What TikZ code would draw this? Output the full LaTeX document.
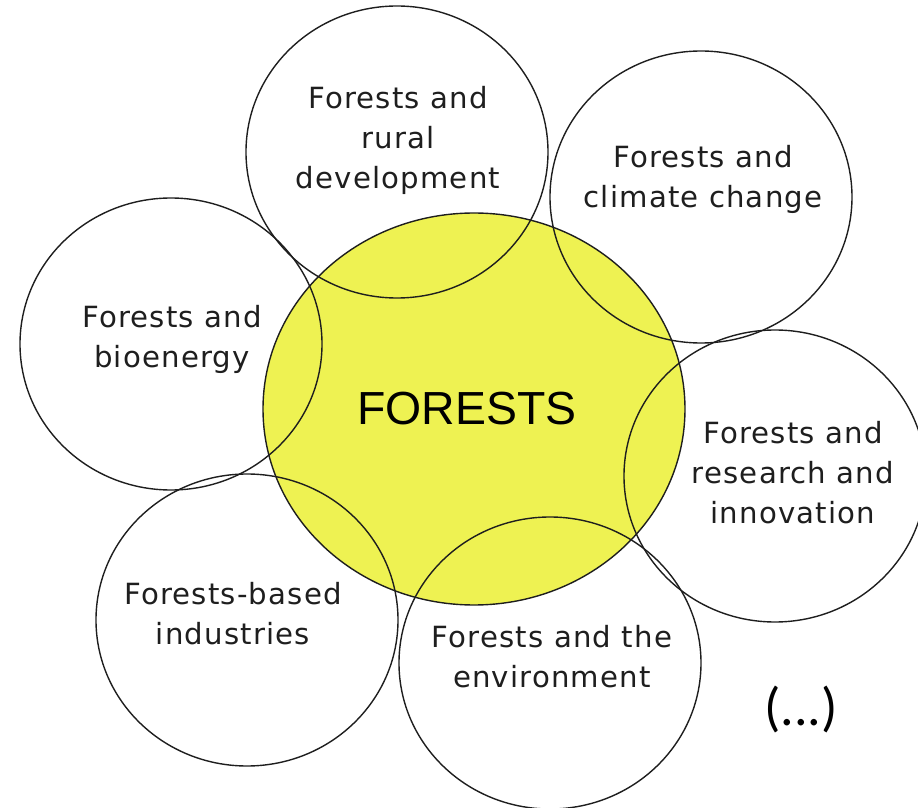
\documentclass[tikz,border=0pt]{standalone}
\usepackage{fontspec}
\setmainfont{DejaVu Sans}[LetterSpace=4]
\newfontfamily\corefont{Liberation Sans}
\newfontfamily\dotsfont{Carlito}
\usetikzlibrary{shapes.geometric}

\definecolor{coreyellow}{RGB}{238,242,82}
\definecolor{penline}{RGB}{30,30,30}

\tikzset{
  petal/.style={ellipse, draw=penline, line width=0.7pt, minimum width=151pt, minimum height=146pt, inner sep=0pt},
  core/.style={ellipse, draw=penline, fill=coreyellow, line width=0.7pt, minimum width=211pt, minimum height=196pt, inner sep=0pt},
  petaltext/.style={align=center, inner sep=0pt, text=penline, font=\fontsize{14.6}{20}\selectfont},
}

\begin{document}
\begin{tikzpicture}[x=0.5pt,y=0.5pt,yscale=-1,xscale=1]
\useasboundingbox (0,0) rectangle (918,808);

%Shape: Ellipse [core]
\node [core] (forests) at (474,409) {};

%Shape: Ellipse [rural]
\node [petal] (rural) at (397,152) {};
%Shape: Ellipse [climate]
\node [petal] (climate) at (701,197) {};
%Shape: Ellipse [research]
\node [petal] (research) at (775,476) {};
%Shape: Ellipse [environment]
\node [petal] (environment) at (550,663) {};
%Shape: Ellipse [industries]
\node [petal] (industries) at (247,620) {};
%Shape: Ellipse [bioenergy]
\node [petal] (bioenergy) at (171,344) {};

% Text Node
\node [inner sep=0pt, text=black, font=\corefont\fontsize{23.2}{26}\selectfont] (forestslbl) at (467,409) {FORESTS};
% Text Node
\node [petaltext] (rurallbl) at (398,140) {Forests and\\rural\\development};
% Text Node
\node [petaltext] (climatelbl) at (703,179) {Forests and\\climate change};
% Text Node
\node [petaltext] (researchlbl) at (793,473) {Forests and\\research and\\innovation};
% Text Node
\node [petaltext] (environmentlbl) at (552,657) {Forests and the\\environment};
% Text Node
\node [petaltext] (industrieslbl) at (233,614) {Forests-based\\industries};
% Text Node
\node [petaltext] (bioenergylbl) at (172,339) {Forests and\\bioenergy};
% Text Node
\node [inner sep=0pt, text=black, font=\dotsfont\fontsize{27}{30}\selectfont] (morelbl) at (801,709) {(...)};
\end{tikzpicture}
\end{document}
